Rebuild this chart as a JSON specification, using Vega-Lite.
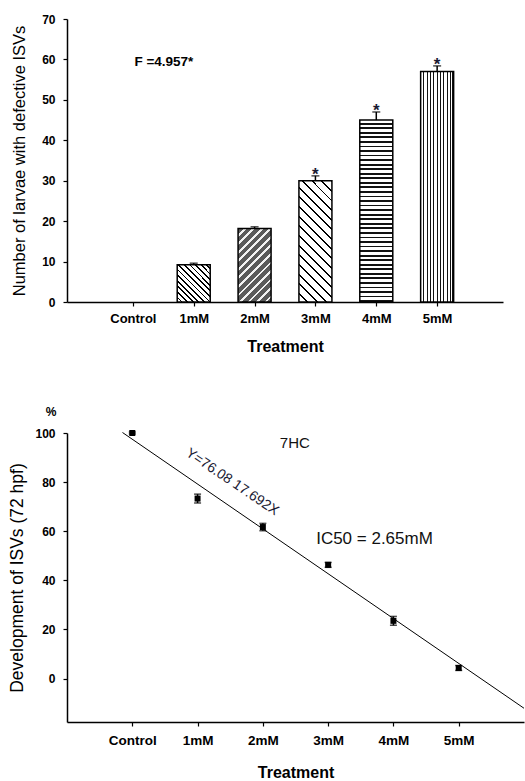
{
  "$schema": "https://vega.github.io/schema/vega-lite/v6.json",
  "background": "white",
  "padding": {"top": 13, "left": 8, "right": 0, "bottom": 5},
  "spacing": 52,
  "datasets": {
    "bars": [
      {"t": "Control", "pos": 1, "v": 0},
      {"t": "1mM", "pos": 2, "v": 9.2, "hi": 9.6, "sig": ""},
      {"t": "2mM", "pos": 3, "v": 18.2, "hi": 18.6, "sig": ""},
      {"t": "3mM", "pos": 4, "v": 30, "hi": 31.2, "sig": "*"},
      {"t": "4mM", "pos": 5, "v": 45, "hi": 47, "sig": "*"},
      {"t": "5mM", "pos": 6, "v": 57, "hi": 58.4, "sig": "*"}
    ],
    "dev": [
      {"t": "Control", "pos": 1, "v": 100, "lo": 99.6, "hi": 100.4},
      {"t": "1mM", "pos": 2, "v": 73.3, "lo": 71.5, "hi": 75.1},
      {"t": "2mM", "pos": 3, "v": 61.7, "lo": 60.2, "hi": 63.2},
      {"t": "3mM", "pos": 4, "v": 46.3, "lo": 45.3, "hi": 47.3},
      {"t": "4mM", "pos": 5, "v": 23.5, "lo": 21.7, "hi": 25.3},
      {"t": "5mM", "pos": 6, "v": 4.3, "lo": 3.3, "hi": 5.3}
    ],
    "fit": [
      {"pos": 0.85, "v": 100.2},
      {"pos": 7, "v": -12.1}
    ]
  },
  "config": {
    "view": {"stroke": null},
    "font": "Liberation Sans",
    "axis": {
      "grid": false,
      "domainColor": "black",
      "domainWidth": 1.5,
      "tickColor": "black",
      "tickWidth": 1.2,
      "tickSize": 4,
      "labelColor": "black",
      "titleColor": "black",
      "labelFont": "Liberation Sans",
      "titleFont": "Liberation Sans",
      "labelFontWeight": "bold"
    }
  },
  "vconcat": [
    {
      "width": 436,
      "height": 283,
      "data": {"name": "bars"},
      "encoding": {
        "x": {
          "field": "pos", "type": "quantitative",
          "scale": {"domain": [0, 7], "nice": false, "zero": false},
          "axis": {
            "values": [1, 2, 3, 4, 5, 6],
            "labelExpr": "['','Control','1mM','2mM','3mM','4mM','5mM'][datum.value]",
            "title": "Treatment",
            "labelFontSize": 13,
            "labelPadding": 6,
            "titleFontSize": 16,
            "titleFontWeight": "bold",
            "titlePadding": 13
          }
        },
        "y": {
          "field": "v", "type": "quantitative",
          "scale": {"domain": [0, 70], "nice": false},
          "axis": {
            "values": [0, 10, 20, 30, 40, 50, 60, 70],
            "title": "Number of larvae with defective ISVs",
            "labelFontSize": 12,
            "labelPadding": 8,
            "titleFontSize": 16.5,
            "titleFontWeight": "normal",
            "titlePadding": 14
          }
        }
      },
      "layer": [
        {
          "transform": [{"filter": "datum.t === '1mM'"}],
          "mark": {"type": "bar", "size": 33, "stroke": "black", "strokeWidth": 1.5,
            "fill": {"gradient": "linear", "x1": 0, "y1": 1, "x2": 0.94, "y2": -0.054, "stops": [
              {"offset": 0.055, "color": "white"}, {"offset": 0.055, "color": "black"}, {"offset": 0.08, "color": "black"}, {"offset": 0.08, "color": "white"},
              {"offset": 0.135, "color": "white"}, {"offset": 0.135, "color": "black"}, {"offset": 0.16, "color": "black"}, {"offset": 0.16, "color": "white"},
              {"offset": 0.215, "color": "white"}, {"offset": 0.215, "color": "black"}, {"offset": 0.24, "color": "black"}, {"offset": 0.24, "color": "white"},
              {"offset": 0.295, "color": "white"}, {"offset": 0.295, "color": "black"}, {"offset": 0.32, "color": "black"}, {"offset": 0.32, "color": "white"},
              {"offset": 0.375, "color": "white"}, {"offset": 0.375, "color": "black"}, {"offset": 0.4, "color": "black"}, {"offset": 0.4, "color": "white"},
              {"offset": 0.455, "color": "white"}, {"offset": 0.455, "color": "black"}, {"offset": 0.48, "color": "black"}, {"offset": 0.48, "color": "white"},
              {"offset": 0.535, "color": "white"}, {"offset": 0.535, "color": "black"}, {"offset": 0.56, "color": "black"}, {"offset": 0.56, "color": "white"},
              {"offset": 0.615, "color": "white"}, {"offset": 0.615, "color": "black"}, {"offset": 0.64, "color": "black"}, {"offset": 0.64, "color": "white"},
              {"offset": 0.695, "color": "white"}, {"offset": 0.695, "color": "black"}, {"offset": 0.72, "color": "black"}, {"offset": 0.72, "color": "white"},
              {"offset": 0.775, "color": "white"}, {"offset": 0.775, "color": "black"}, {"offset": 0.8, "color": "black"}, {"offset": 0.8, "color": "white"},
              {"offset": 0.855, "color": "white"}, {"offset": 0.855, "color": "black"}, {"offset": 0.88, "color": "black"}, {"offset": 0.88, "color": "white"},
              {"offset": 0.935, "color": "white"}, {"offset": 0.935, "color": "black"}, {"offset": 0.96, "color": "black"}, {"offset": 0.96, "color": "white"}
            ]}
          }
        },
        {
          "transform": [{"filter": "datum.t === '2mM'"}],
          "mark": {"type": "bar", "size": 33, "stroke": "black", "strokeWidth": 1.5,
            "fill": {"gradient": "linear", "x1": 0, "y1": 0, "x2": 0.541, "y2": 1.206, "stops": [
              {"offset": 0.055, "color": "#5a5a5a"}, {"offset": 0.055, "color": "#f2f2f2"}, {"offset": 0.08, "color": "#f2f2f2"}, {"offset": 0.08, "color": "#5a5a5a"},
              {"offset": 0.135, "color": "#5a5a5a"}, {"offset": 0.135, "color": "#f2f2f2"}, {"offset": 0.16, "color": "#f2f2f2"}, {"offset": 0.16, "color": "#5a5a5a"},
              {"offset": 0.215, "color": "#5a5a5a"}, {"offset": 0.215, "color": "#f2f2f2"}, {"offset": 0.24, "color": "#f2f2f2"}, {"offset": 0.24, "color": "#5a5a5a"},
              {"offset": 0.295, "color": "#5a5a5a"}, {"offset": 0.295, "color": "#f2f2f2"}, {"offset": 0.32, "color": "#f2f2f2"}, {"offset": 0.32, "color": "#5a5a5a"},
              {"offset": 0.375, "color": "#5a5a5a"}, {"offset": 0.375, "color": "#f2f2f2"}, {"offset": 0.4, "color": "#f2f2f2"}, {"offset": 0.4, "color": "#5a5a5a"},
              {"offset": 0.455, "color": "#5a5a5a"}, {"offset": 0.455, "color": "#f2f2f2"}, {"offset": 0.48, "color": "#f2f2f2"}, {"offset": 0.48, "color": "#5a5a5a"},
              {"offset": 0.535, "color": "#5a5a5a"}, {"offset": 0.535, "color": "#f2f2f2"}, {"offset": 0.56, "color": "#f2f2f2"}, {"offset": 0.56, "color": "#5a5a5a"},
              {"offset": 0.615, "color": "#5a5a5a"}, {"offset": 0.615, "color": "#f2f2f2"}, {"offset": 0.64, "color": "#f2f2f2"}, {"offset": 0.64, "color": "#5a5a5a"},
              {"offset": 0.695, "color": "#5a5a5a"}, {"offset": 0.695, "color": "#f2f2f2"}, {"offset": 0.72, "color": "#f2f2f2"}, {"offset": 0.72, "color": "#5a5a5a"},
              {"offset": 0.775, "color": "#5a5a5a"}, {"offset": 0.775, "color": "#f2f2f2"}, {"offset": 0.8, "color": "#f2f2f2"}, {"offset": 0.8, "color": "#5a5a5a"},
              {"offset": 0.855, "color": "#5a5a5a"}, {"offset": 0.855, "color": "#f2f2f2"}, {"offset": 0.88, "color": "#f2f2f2"}, {"offset": 0.88, "color": "#5a5a5a"},
              {"offset": 0.935, "color": "#5a5a5a"}, {"offset": 0.935, "color": "#f2f2f2"}, {"offset": 0.96, "color": "#f2f2f2"}, {"offset": 0.96, "color": "#5a5a5a"}
            ]}
          }
        },
        {
          "transform": [{"filter": "datum.t === '3mM'"}],
          "mark": {"type": "bar", "size": 33, "stroke": "black", "strokeWidth": 1.5,
            "fill": {"gradient": "linear", "x1": 0, "y1": 1, "x2": 0.323, "y2": -0.185, "stops": [
              {"offset": 0.05, "color": "white"}, {"offset": 0.05, "color": "black"}, {"offset": 0.0625, "color": "black"}, {"offset": 0.0625, "color": "white"},
              {"offset": 0.1125, "color": "white"}, {"offset": 0.1125, "color": "black"}, {"offset": 0.125, "color": "black"}, {"offset": 0.125, "color": "white"},
              {"offset": 0.175, "color": "white"}, {"offset": 0.175, "color": "black"}, {"offset": 0.1875, "color": "black"}, {"offset": 0.1875, "color": "white"},
              {"offset": 0.2375, "color": "white"}, {"offset": 0.2375, "color": "black"}, {"offset": 0.25, "color": "black"}, {"offset": 0.25, "color": "white"},
              {"offset": 0.3, "color": "white"}, {"offset": 0.3, "color": "black"}, {"offset": 0.3125, "color": "black"}, {"offset": 0.3125, "color": "white"},
              {"offset": 0.3625, "color": "white"}, {"offset": 0.3625, "color": "black"}, {"offset": 0.375, "color": "black"}, {"offset": 0.375, "color": "white"},
              {"offset": 0.425, "color": "white"}, {"offset": 0.425, "color": "black"}, {"offset": 0.4375, "color": "black"}, {"offset": 0.4375, "color": "white"},
              {"offset": 0.4875, "color": "white"}, {"offset": 0.4875, "color": "black"}, {"offset": 0.5, "color": "black"}, {"offset": 0.5, "color": "white"},
              {"offset": 0.55, "color": "white"}, {"offset": 0.55, "color": "black"}, {"offset": 0.5625, "color": "black"}, {"offset": 0.5625, "color": "white"},
              {"offset": 0.6125, "color": "white"}, {"offset": 0.6125, "color": "black"}, {"offset": 0.625, "color": "black"}, {"offset": 0.625, "color": "white"},
              {"offset": 0.675, "color": "white"}, {"offset": 0.675, "color": "black"}, {"offset": 0.6875, "color": "black"}, {"offset": 0.6875, "color": "white"},
              {"offset": 0.7375, "color": "white"}, {"offset": 0.7375, "color": "black"}, {"offset": 0.75, "color": "black"}, {"offset": 0.75, "color": "white"},
              {"offset": 0.8, "color": "white"}, {"offset": 0.8, "color": "black"}, {"offset": 0.8125, "color": "black"}, {"offset": 0.8125, "color": "white"},
              {"offset": 0.8625, "color": "white"}, {"offset": 0.8625, "color": "black"}, {"offset": 0.875, "color": "black"}, {"offset": 0.875, "color": "white"},
              {"offset": 0.925, "color": "white"}, {"offset": 0.925, "color": "black"}, {"offset": 0.9375, "color": "black"}, {"offset": 0.9375, "color": "white"},
              {"offset": 0.9875, "color": "white"}, {"offset": 0.9875, "color": "black"}, {"offset": 1, "color": "black"}
            ]}
          }
        },
        {
          "transform": [{"filter": "datum.t === '4mM'"}],
          "mark": {"type": "bar", "size": 33, "stroke": "black", "strokeWidth": 1.5,
            "fill": {"gradient": "linear", "x1": 0, "y1": 0, "x2": 0, "y2": 1, "stops": [
              {"offset": 0.015, "color": "white"}, {"offset": 0.015, "color": "#111"}, {"offset": 0.025, "color": "#111"}, {"offset": 0.025, "color": "white"},
              {"offset": 0.04, "color": "white"}, {"offset": 0.04, "color": "#111"}, {"offset": 0.05, "color": "#111"}, {"offset": 0.05, "color": "white"},
              {"offset": 0.065, "color": "white"}, {"offset": 0.065, "color": "#111"}, {"offset": 0.075, "color": "#111"}, {"offset": 0.075, "color": "white"},
              {"offset": 0.09, "color": "white"}, {"offset": 0.09, "color": "#111"}, {"offset": 0.1, "color": "#111"}, {"offset": 0.1, "color": "white"},
              {"offset": 0.115, "color": "white"}, {"offset": 0.115, "color": "#111"}, {"offset": 0.125, "color": "#111"}, {"offset": 0.125, "color": "white"},
              {"offset": 0.14, "color": "white"}, {"offset": 0.14, "color": "#111"}, {"offset": 0.15, "color": "#111"}, {"offset": 0.15, "color": "white"},
              {"offset": 0.165, "color": "white"}, {"offset": 0.165, "color": "#111"}, {"offset": 0.175, "color": "#111"}, {"offset": 0.175, "color": "white"},
              {"offset": 0.19, "color": "white"}, {"offset": 0.19, "color": "#111"}, {"offset": 0.2, "color": "#111"}, {"offset": 0.2, "color": "white"},
              {"offset": 0.215, "color": "white"}, {"offset": 0.215, "color": "#111"}, {"offset": 0.225, "color": "#111"}, {"offset": 0.225, "color": "white"},
              {"offset": 0.24, "color": "white"}, {"offset": 0.24, "color": "#111"}, {"offset": 0.25, "color": "#111"}, {"offset": 0.25, "color": "white"},
              {"offset": 0.265, "color": "white"}, {"offset": 0.265, "color": "#111"}, {"offset": 0.275, "color": "#111"}, {"offset": 0.275, "color": "white"},
              {"offset": 0.29, "color": "white"}, {"offset": 0.29, "color": "#111"}, {"offset": 0.3, "color": "#111"}, {"offset": 0.3, "color": "white"},
              {"offset": 0.315, "color": "white"}, {"offset": 0.315, "color": "#111"}, {"offset": 0.325, "color": "#111"}, {"offset": 0.325, "color": "white"},
              {"offset": 0.34, "color": "white"}, {"offset": 0.34, "color": "#111"}, {"offset": 0.35, "color": "#111"}, {"offset": 0.35, "color": "white"},
              {"offset": 0.365, "color": "white"}, {"offset": 0.365, "color": "#111"}, {"offset": 0.375, "color": "#111"}, {"offset": 0.375, "color": "white"},
              {"offset": 0.39, "color": "white"}, {"offset": 0.39, "color": "#111"}, {"offset": 0.4, "color": "#111"}, {"offset": 0.4, "color": "white"},
              {"offset": 0.415, "color": "white"}, {"offset": 0.415, "color": "#111"}, {"offset": 0.425, "color": "#111"}, {"offset": 0.425, "color": "white"},
              {"offset": 0.44, "color": "white"}, {"offset": 0.44, "color": "#111"}, {"offset": 0.45, "color": "#111"}, {"offset": 0.45, "color": "white"},
              {"offset": 0.465, "color": "white"}, {"offset": 0.465, "color": "#111"}, {"offset": 0.475, "color": "#111"}, {"offset": 0.475, "color": "white"},
              {"offset": 0.49, "color": "white"}, {"offset": 0.49, "color": "#111"}, {"offset": 0.5, "color": "#111"}, {"offset": 0.5, "color": "white"},
              {"offset": 0.515, "color": "white"}, {"offset": 0.515, "color": "#111"}, {"offset": 0.525, "color": "#111"}, {"offset": 0.525, "color": "white"},
              {"offset": 0.54, "color": "white"}, {"offset": 0.54, "color": "#111"}, {"offset": 0.55, "color": "#111"}, {"offset": 0.55, "color": "white"},
              {"offset": 0.565, "color": "white"}, {"offset": 0.565, "color": "#111"}, {"offset": 0.575, "color": "#111"}, {"offset": 0.575, "color": "white"},
              {"offset": 0.59, "color": "white"}, {"offset": 0.59, "color": "#111"}, {"offset": 0.6, "color": "#111"}, {"offset": 0.6, "color": "white"},
              {"offset": 0.615, "color": "white"}, {"offset": 0.615, "color": "#111"}, {"offset": 0.625, "color": "#111"}, {"offset": 0.625, "color": "white"},
              {"offset": 0.64, "color": "white"}, {"offset": 0.64, "color": "#111"}, {"offset": 0.65, "color": "#111"}, {"offset": 0.65, "color": "white"},
              {"offset": 0.665, "color": "white"}, {"offset": 0.665, "color": "#111"}, {"offset": 0.675, "color": "#111"}, {"offset": 0.675, "color": "white"},
              {"offset": 0.69, "color": "white"}, {"offset": 0.69, "color": "#111"}, {"offset": 0.7, "color": "#111"}, {"offset": 0.7, "color": "white"},
              {"offset": 0.715, "color": "white"}, {"offset": 0.715, "color": "#111"}, {"offset": 0.725, "color": "#111"}, {"offset": 0.725, "color": "white"},
              {"offset": 0.74, "color": "white"}, {"offset": 0.74, "color": "#111"}, {"offset": 0.75, "color": "#111"}, {"offset": 0.75, "color": "white"},
              {"offset": 0.765, "color": "white"}, {"offset": 0.765, "color": "#111"}, {"offset": 0.775, "color": "#111"}, {"offset": 0.775, "color": "white"},
              {"offset": 0.79, "color": "white"}, {"offset": 0.79, "color": "#111"}, {"offset": 0.8, "color": "#111"}, {"offset": 0.8, "color": "white"},
              {"offset": 0.815, "color": "white"}, {"offset": 0.815, "color": "#111"}, {"offset": 0.825, "color": "#111"}, {"offset": 0.825, "color": "white"},
              {"offset": 0.84, "color": "white"}, {"offset": 0.84, "color": "#111"}, {"offset": 0.85, "color": "#111"}, {"offset": 0.85, "color": "white"},
              {"offset": 0.865, "color": "white"}, {"offset": 0.865, "color": "#111"}, {"offset": 0.875, "color": "#111"}, {"offset": 0.875, "color": "white"},
              {"offset": 0.89, "color": "white"}, {"offset": 0.89, "color": "#111"}, {"offset": 0.9, "color": "#111"}, {"offset": 0.9, "color": "white"},
              {"offset": 0.915, "color": "white"}, {"offset": 0.915, "color": "#111"}, {"offset": 0.925, "color": "#111"}, {"offset": 0.925, "color": "white"},
              {"offset": 0.94, "color": "white"}, {"offset": 0.94, "color": "#111"}, {"offset": 0.95, "color": "#111"}, {"offset": 0.95, "color": "white"},
              {"offset": 0.965, "color": "white"}, {"offset": 0.965, "color": "#111"}, {"offset": 0.975, "color": "#111"}, {"offset": 0.975, "color": "white"},
              {"offset": 0.99, "color": "white"}, {"offset": 0.99, "color": "#111"}, {"offset": 1, "color": "#111"}
            ]}
          }
        },
        {
          "transform": [{"filter": "datum.t === '5mM'"}],
          "mark": {"type": "bar", "size": 33, "stroke": "black", "strokeWidth": 1.5,
            "fill": {"gradient": "linear", "x1": 0, "y1": 0, "x2": 1, "y2": 0, "stops": [
              {"offset": 0.085, "color": "white"}, {"offset": 0.085, "color": "#111"}, {"offset": 0.115, "color": "#111"}, {"offset": 0.115, "color": "white"},
              {"offset": 0.185, "color": "white"}, {"offset": 0.185, "color": "#111"}, {"offset": 0.215, "color": "#111"}, {"offset": 0.215, "color": "white"},
              {"offset": 0.285, "color": "white"}, {"offset": 0.285, "color": "#111"}, {"offset": 0.315, "color": "#111"}, {"offset": 0.315, "color": "white"},
              {"offset": 0.385, "color": "white"}, {"offset": 0.385, "color": "#111"}, {"offset": 0.415, "color": "#111"}, {"offset": 0.415, "color": "white"},
              {"offset": 0.485, "color": "white"}, {"offset": 0.485, "color": "#111"}, {"offset": 0.515, "color": "#111"}, {"offset": 0.515, "color": "white"},
              {"offset": 0.585, "color": "white"}, {"offset": 0.585, "color": "#111"}, {"offset": 0.615, "color": "#111"}, {"offset": 0.615, "color": "white"},
              {"offset": 0.685, "color": "white"}, {"offset": 0.685, "color": "#111"}, {"offset": 0.715, "color": "#111"}, {"offset": 0.715, "color": "white"},
              {"offset": 0.785, "color": "white"}, {"offset": 0.785, "color": "#111"}, {"offset": 0.815, "color": "#111"}, {"offset": 0.815, "color": "white"},
              {"offset": 0.885, "color": "white"}, {"offset": 0.885, "color": "#111"}, {"offset": 0.915, "color": "#111"}, {"offset": 0.915, "color": "white"},
              {"offset": 0.96, "color": "white"}, {"offset": 0.96, "color": "#111"}, {"offset": 1, "color": "#111"}
            ]}
          }
        },
        {
          "transform": [{"filter": "isValid(datum.hi)"}],
          "mark": {"type": "rule", "color": "black", "strokeWidth": 1.5},
          "encoding": {"y2": {"field": "hi"}}
        },
        {
          "transform": [{"filter": "isValid(datum.hi)"}],
          "mark": {"type": "tick", "orient": "horizontal", "color": "black", "size": 8, "thickness": 1.5},
          "encoding": {"y": {"field": "hi", "type": "quantitative"}}
        },
        {
          "transform": [{"filter": "datum.sig === '*'"}],
          "mark": {"type": "text", "fontSize": 17, "fontWeight": "bold", "color": "#1a1a33", "baseline": "alphabetic", "dy": 4},
          "encoding": {"y": {"field": "hi", "type": "quantitative"}, "text": {"field": "sig"}}
        },
        {
          "transform": [{"filter": "datum.t === 'Control'"}],
          "mark": {"type": "text", "fontSize": 13.5, "fontWeight": "bold", "color": "black"},
          "encoding": {"x": {"datum": 1.51}, "y": {"datum": 59.4}, "text": {"value": "F =4.957*"}}
        }
      ]
    },
    {
      "width": 457,
      "height": 289,
      "data": {"name": "dev"},
      "encoding": {
        "x": {
          "field": "pos", "type": "quantitative",
          "scale": {"domain": [0, 7], "nice": false, "zero": false},
          "axis": {
            "values": [1, 2, 3, 4, 5, 6],
            "labelExpr": "['','Control','1mM','2mM','3mM','4mM','5mM'][datum.value]",
            "title": "Treatment",
            "labelFontSize": 13.5,
            "labelPadding": 7,
            "titleFontSize": 16,
            "titleFontWeight": "bold",
            "titlePadding": 18
          }
        },
        "y": {
          "field": "v", "type": "quantitative",
          "scale": {"domain": [-17.7, 100], "nice": false, "zero": false},
          "axis": {
            "values": [0, 20, 40, 60, 80, 100],
            "title": "Development of ISVs (72 hpf)",
            "labelFontSize": 12,
            "labelPadding": 8,
            "titleFontSize": 17.5,
            "titleFontWeight": "normal",
            "titlePadding": 8
          }
        }
      },
      "layer": [
        {
          "data": {"name": "fit"},
          "mark": {"type": "line", "color": "black", "strokeWidth": 1}
        },
        {
          "mark": {"type": "rule", "color": "black", "strokeWidth": 1.5},
          "encoding": {"y": {"field": "lo", "type": "quantitative"}, "y2": {"field": "hi"}}
        },
        {
          "mark": {"type": "tick", "orient": "horizontal", "color": "black", "size": 7, "thickness": 1.5},
          "encoding": {"y": {"field": "lo", "type": "quantitative"}}
        },
        {
          "mark": {"type": "tick", "orient": "horizontal", "color": "black", "size": 7, "thickness": 1.5},
          "encoding": {"y": {"field": "hi", "type": "quantitative"}}
        },
        {
          "mark": {"type": "square", "color": "black", "filled": true, "size": 36, "opacity": 1}
        },
        {
          "transform": [{"filter": "datum.t === 'Control'"}],
          "mark": {"type": "text", "fontSize": 15, "color": "#111"},
          "encoding": {"x": {"datum": 3.49}, "y": {"datum": 95.9}, "text": {"value": "7HC"}}
        },
        {
          "transform": [{"filter": "datum.t === 'Control'"}],
          "mark": {"type": "text", "fontSize": 17, "color": "#111"},
          "encoding": {"x": {"datum": 4.71}, "y": {"datum": 56.7}, "text": {"value": "IC50 = 2.65mM"}}
        },
        {
          "transform": [{"filter": "datum.t === 'Control'"}],
          "mark": {"type": "text", "fontSize": 14, "angle": 34, "color": "#1a1a33"},
          "encoding": {"x": {"datum": 2.53}, "y": {"datum": 80.0}, "text": {"value": "Y=76.08 17.692X"}}
        },
        {
          "transform": [{"filter": "datum.t === 'Control'"}],
          "mark": {"type": "text", "fontSize": 12, "fontWeight": "bold", "color": "black"},
          "encoding": {"x": {"datum": -0.245}, "y": {"datum": 108.5}, "text": {"value": "%"}}
        }
      ]
    }
  ]
}
